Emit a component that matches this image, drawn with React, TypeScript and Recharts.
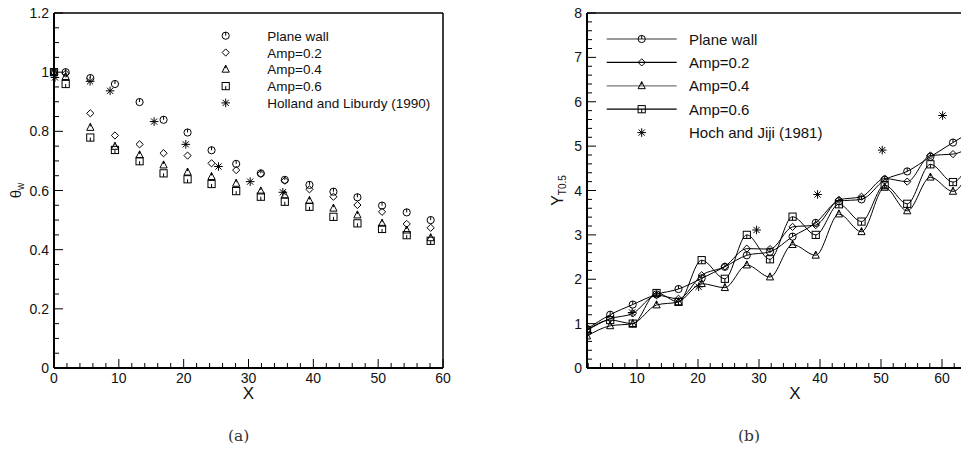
import React from "react";
import {
  ScatterChart,
  ComposedChart,
  Scatter,
  Line,
  XAxis,
  YAxis,
  Legend,
  ReferenceLine,
} from "recharts";

// ---- (a) wall temperature, symbols only ----
const stationsA = [0, 1.8, 5.6, 9.4, 13.2, 16.9, 20.6, 24.3, 28.1, 31.9, 35.6, 39.4, 43.1, 46.8, 50.6, 54.4, 58.1];
const planeA = [1.0, 1.0, 0.98, 0.96, 0.899, 0.839, 0.796, 0.736, 0.69, 0.658, 0.636, 0.619, 0.596, 0.577, 0.549, 0.526, 0.5];
const amp2A = [1.0, 0.995, 0.861, 0.786, 0.756, 0.726, 0.718, 0.692, 0.669, 0.656, 0.633, 0.604, 0.579, 0.551, 0.528, 0.487, 0.474];
const amp4A = [1.0, 0.985, 0.813, 0.749, 0.72, 0.686, 0.662, 0.647, 0.624, 0.598, 0.585, 0.566, 0.54, 0.517, 0.489, 0.466, 0.44];
const amp6A = [1.0, 0.96, 0.779, 0.737, 0.699, 0.658, 0.638, 0.622, 0.598, 0.579, 0.562, 0.545, 0.511, 0.489, 0.47, 0.449, 0.43];
const hollandX = [0.15, 5.56, 8.65, 15.44, 20.33, 25.37, 30.26, 35.3];
const hollandY = [0.982, 0.969, 0.937, 0.833, 0.756, 0.681, 0.63, 0.594];

// ---- (b) thermal half-width, symbols joined by curves ----
const stationsB = [1.8, 5.6, 9.3, 13.2, 16.8, 20.6, 24.4, 28.0, 31.8, 35.5, 39.3, 43.1, 46.8, 50.6, 54.3, 58.1, 61.8, 65.6];
const planeB = [0.88, 1.2, 1.43, 1.66, 1.78, 2.02, 2.28, 2.54, 2.62, 2.96, 3.27, 3.76, 3.8, 4.24, 4.43, 4.76, 5.08, 5.4];
const amp2B = [0.85, 1.11, 1.23, 1.64, 1.56, 2.09, 2.29, 2.69, 2.68, 3.18, 3.22, 3.79, 3.86, 4.27, 4.2, 4.79, 4.82, 5.07];
const amp4B = [0.72, 0.95, 1.0, 1.42, 1.49, 1.9, 1.81, 2.32, 2.05, 2.78, 2.54, 3.47, 3.07, 4.07, 3.54, 4.3, 3.98, 4.85];
const amp6B = [0.85, 1.08, 1.0, 1.69, 1.49, 2.43, 2.01, 3.0, 2.45, 3.41, 3.0, 3.69, 3.3, 4.12, 3.7, 4.59, 4.19, 5.0];
const hochX = [9.2, 20.1, 29.6, 39.6, 50.2, 60.1];
const hochY = [1.25, 1.83, 3.11, 3.91, 4.91, 5.69];

const namesA = ["Plane wall", "Amp=0.2", "Amp=0.4", "Amp=0.6", "Holland and Liburdy (1990)"];
const namesB = ["Plane wall", "Amp=0.2", "Amp=0.4", "Amp=0.6", "Hoch and Jiji (1981)"];
const kinds = ["circle", "diamond", "triangle", "square", "star"];

const pts = (xs: number[], ys: number[]) => xs.map((x, i) => ({ x, y: ys[i] }));

const tableB = stationsB.map((x, i) => ({
  x,
  plane: planeB[i],
  amp2: amp2B[i],
  amp4: amp4B[i],
  amp6: amp6B[i],
}));

// tick lists: every minor step, labels only on the majors
const makeTicks = (from: number, to: number, step: number) => {
  const out: number[] = [];
  const n = Math.round((to - from) / step);
  for (let k = 0; k <= n; k++) out.push(Math.round((from + k * step) * 1000) / 1000);
  return out;
};
const isMajor = (v: number, major: number) => Math.abs(v / major - Math.round(v / major)) < 1e-6;

const FONT = "'Liberation Sans', Arial, sans-serif";
const INK = "#111";
const R = 3.6;

function Marker({ kind, cx, cy, r = R }: { kind: string; cx: number; cy: number; r?: number }) {
  if (cx == null || cy == null) return null;
  const s = { fill: "none", stroke: "#000", strokeWidth: 1 };
  switch (kind) {
    case "circle":
      return (
        <g>
          <circle cx={cx} cy={cy} r={r} {...s} />
          <line x1={cx} y1={cy - r} x2={cx} y2={cy} stroke="#000" />
        </g>
      );
    case "diamond":
      return <polygon points={`${cx},${cy - r} ${cx + r},${cy} ${cx},${cy + r} ${cx - r},${cy}`} {...s} />;
    case "triangle":
      return (
        <g>
          <polygon points={`${cx},${cy - r * 1.15} ${cx + r},${cy + r * 0.8} ${cx - r},${cy + r * 0.8}`} {...s} />
          <line x1={cx} y1={cy - r * 1.15} x2={cx} y2={cy - r * 0.3} stroke="#000" />
        </g>
      );
    case "square":
      return (
        <g>
          <rect x={cx - r} y={cy - r} width={2 * r} height={2 * r} {...s} />
          <line x1={cx} y1={cy} x2={cx} y2={cy + r} stroke="#000" />
        </g>
      );
    default: {
      const a = r * 1.2;
      const d = a * 0.72;
      return (
        <g stroke="#000" strokeWidth={1}>
          <line x1={cx - a} y1={cy} x2={cx + a} y2={cy} />
          <line x1={cx} y1={cy - a} x2={cx} y2={cy + a} />
          <line x1={cx - d} y1={cy - d} x2={cx + d} y2={cy + d} />
          <line x1={cx - d} y1={cy + d} x2={cx + d} y2={cy - d} />
        </g>
      );
    }
  }
}

const shapeOf = (kind: string) => (p: any) => <Marker kind={kind} cx={p.cx} cy={p.cy} />;
const dotOf = (kind: string) => (p: any) => (
  <g key={`${kind}-${p.index}`}>
    <Marker kind={kind} cx={p.cx} cy={p.cy} />
  </g>
);

// ticks drawn inward from the axis, label outside; lastLabel caps which majors get text
const xTick = (major: number, lastLabel = Infinity) => (p: any) => {
  const v = p.payload.value;
  const big = isMajor(v, major);
  return (
    <g>
      <line x1={p.x} y1={p.y} x2={p.x} y2={p.y - (big ? 9 : 5)} stroke="#000" strokeWidth={1} />
      {big && v <= lastLabel && (
        <text x={p.x} y={p.y + 15} textAnchor="middle" fontSize={14} fontFamily={FONT} fill={INK}>
          {v}
        </text>
      )}
    </g>
  );
};
const yTick = (major: number, gap: number) => (p: any) => {
  const v = p.payload.value;
  const big = isMajor(v, major);
  return (
    <g>
      <line x1={p.x} y1={p.y} x2={p.x + (big ? 9 : 5)} y2={p.y} stroke="#000" strokeWidth={1} />
      {big && (
        <text x={p.x - gap} y={p.y + 5} textAnchor="end" fontSize={14} fontFamily={FONT} fill={INK}>
          {v}
        </text>
      )}
    </g>
  );
};

const xLabel = (p: any) => {
  const vb = p.viewBox;
  return (
    <text x={vb.x + vb.width / 2} y={vb.y + 31} textAnchor="middle" fontSize={17} fontFamily={FONT} fill={INK}>
      X
    </text>
  );
};

const thetaLabel = (p: any) => {
  const vb = p.viewBox;
  const cx = vb.x + 2;
  const cy = vb.y + vb.height / 2;
  return (
    <text x={cx} y={cy} transform={`rotate(-90, ${cx}, ${cy})`} textAnchor="middle" dy={5} fontSize={15} fontFamily={FONT} fill={INK}>
      θ<tspan fontSize={10} dy={3}>w</tspan>
    </text>
  );
};

const yHalfLabel = (p: any) => {
  const vb = p.viewBox;
  const cx = vb.x + 11;
  const cy = vb.y + vb.height / 2;
  return (
    <text x={cx} y={cy} transform={`rotate(-90, ${cx}, ${cy})`} textAnchor="middle" dy={5} fontSize={16} fontFamily={FONT} fill={INK}>
      Y<tspan fontSize={10} dy={3}>T0.5</tspan>
    </text>
  );
};

function LegendA() {
  return (
    <svg width={260} height={90} style={{ display: "block" }}>
      {namesA.map((n, i) => {
        const cy = 7.7 + i * 16.8;
        return (
          <g key={n}>
            <Marker kind={kinds[i]} cx={17.7} cy={cy} />
            <text x={59.3} y={cy + 5} fontSize={13.5} fontFamily={FONT} fill={INK}>
              {n}
            </text>
          </g>
        );
      })}
    </svg>
  );
}

function LegendB() {
  const lineColors = ["#777", "#000", "#777", "#000"];
  return (
    <svg width={260} height={120} style={{ display: "block" }}>
      {namesB.map((n, i) => {
        const cy = 14 + i * 23.4;
        return (
          <g key={n}>
            {i < 4 && <line x1={11.7} y1={cy} x2={81.7} y2={cy} stroke={lineColors[i]} strokeWidth={1.3} />}
            <Marker kind={kinds[i]} cx={46.7} cy={cy} />
            <text x={94} y={cy + 5.5} fontSize={15} fontFamily={FONT} fill={INK}>
              {n}
            </text>
          </g>
        );
      })}
    </svg>
  );
}

const seriesA = [planeA, amp2A, amp4A, amp6A];
const keysB = ["plane", "amp2", "amp4", "amp6"];
const captionStyle: React.CSSProperties = {
  position: "absolute",
  top: 427,
  fontFamily: "'DejaVu Serif', serif",
  fontSize: 15.5,
  color: "#333",
};

export default function App() {
  return (
    <div style={{ position: "relative", top: -8, width: 961, height: 460, overflow: "hidden", fontFamily: FONT }}>
      <div style={{ position: "absolute", left: 0, top: 0 }}>
        <ScatterChart width={460} height={408} margin={{ top: 13, right: 25, bottom: 10, left: 6 }}>
          <XAxis
            type="number"
            dataKey="x"
            domain={[0, 60]}
            ticks={makeTicks(0, 60, 2)}
            interval={0}
            tickSize={0}
            tickMargin={0}
            tickLine={false}
            axisLine={{ stroke: "#000", strokeWidth: 2 }}
            tick={xTick(10)}
            height={30}
            label={{ content: xLabel }}
          />
          <YAxis
            type="number"
            dataKey="y"
            domain={[0, 1.2]}
            ticks={makeTicks(0, 1.2, 0.05)}
            interval={0}
            tickSize={0}
            tickMargin={0}
            tickLine={false}
            axisLine={{ stroke: "#000", strokeWidth: 2 }}
            tick={yTick(0.2, 5)}
            width={40}
            label={{ content: thetaLabel }}
          />
          <ReferenceLine y={1.2} stroke="#000" strokeWidth={1.5} />
          <ReferenceLine x={60} stroke="#000" strokeWidth={1.5} />
          {seriesA.map((ys, i) => (
            <Scatter
              key={namesA[i]}
              name={namesA[i]}
              data={pts(stationsA, ys)}
              shape={shapeOf(kinds[i])}
              isAnimationActive={false}
            />
          ))}
          <Scatter name={namesA[4]} data={pts(hollandX, hollandY)} shape={shapeOf("star")} isAnimationActive={false} />
          <Legend
            layout="vertical"
            align="center"
            verticalAlign="middle"
            content={() => <LegendA />}
            wrapperStyle={{ left: 200, top: 28, width: 260, height: 90 }}
          />
        </ScatterChart>
      </div>

      <div style={{ position: "absolute", left: 530, top: 0 }}>
        <ComposedChart width={470} height={408} data={tableB} margin={{ top: 13, right: 5, bottom: 10, left: 9 }}>
          <XAxis
            type="number"
            dataKey="x"
            domain={[1.8, 70]}
            ticks={makeTicks(2, 68, 2)}
            interval={0}
            tickSize={0}
            tickMargin={0}
            tickLine={false}
            axisLine={{ stroke: "#000", strokeWidth: 2 }}
            tick={xTick(10, 60)}
            height={30}
            allowDataOverflow
            label={{ content: xLabel }}
          />
          <YAxis
            type="number"
            domain={[0, 8]}
            ticks={makeTicks(0, 8, 0.2)}
            interval={0}
            tickSize={0}
            tickMargin={0}
            tickLine={false}
            axisLine={{ stroke: "#000", strokeWidth: 2 }}
            tick={yTick(1, 5)}
            width={40}
            label={{ content: yHalfLabel }}
          />
          <ReferenceLine y={8} stroke="#000" strokeWidth={1.5} />
          {keysB.map((k, i) => (
            <Line
              key={k}
              name={namesB[i]}
              dataKey={k}
              type="monotone"
              stroke="#000"
              strokeWidth={1}
              dot={dotOf(kinds[i])}
              activeDot={false}
              isAnimationActive={false}
            />
          ))}
          <Scatter name={namesB[4]} data={pts(hochX, hochY)} dataKey="y" shape={shapeOf("star")} isAnimationActive={false} />
          <Legend
            layout="vertical"
            align="center"
            verticalAlign="middle"
            content={() => <LegendB />}
            wrapperStyle={{ left: 57, top: 25, width: 260, height: 120 }}
          />
        </ComposedChart>
      </div>

      <div style={{ ...captionStyle, left: 220 }}>(a)</div>
      <div style={{ ...captionStyle, left: 730 }}>(b)</div>
    </div>
  );
}
